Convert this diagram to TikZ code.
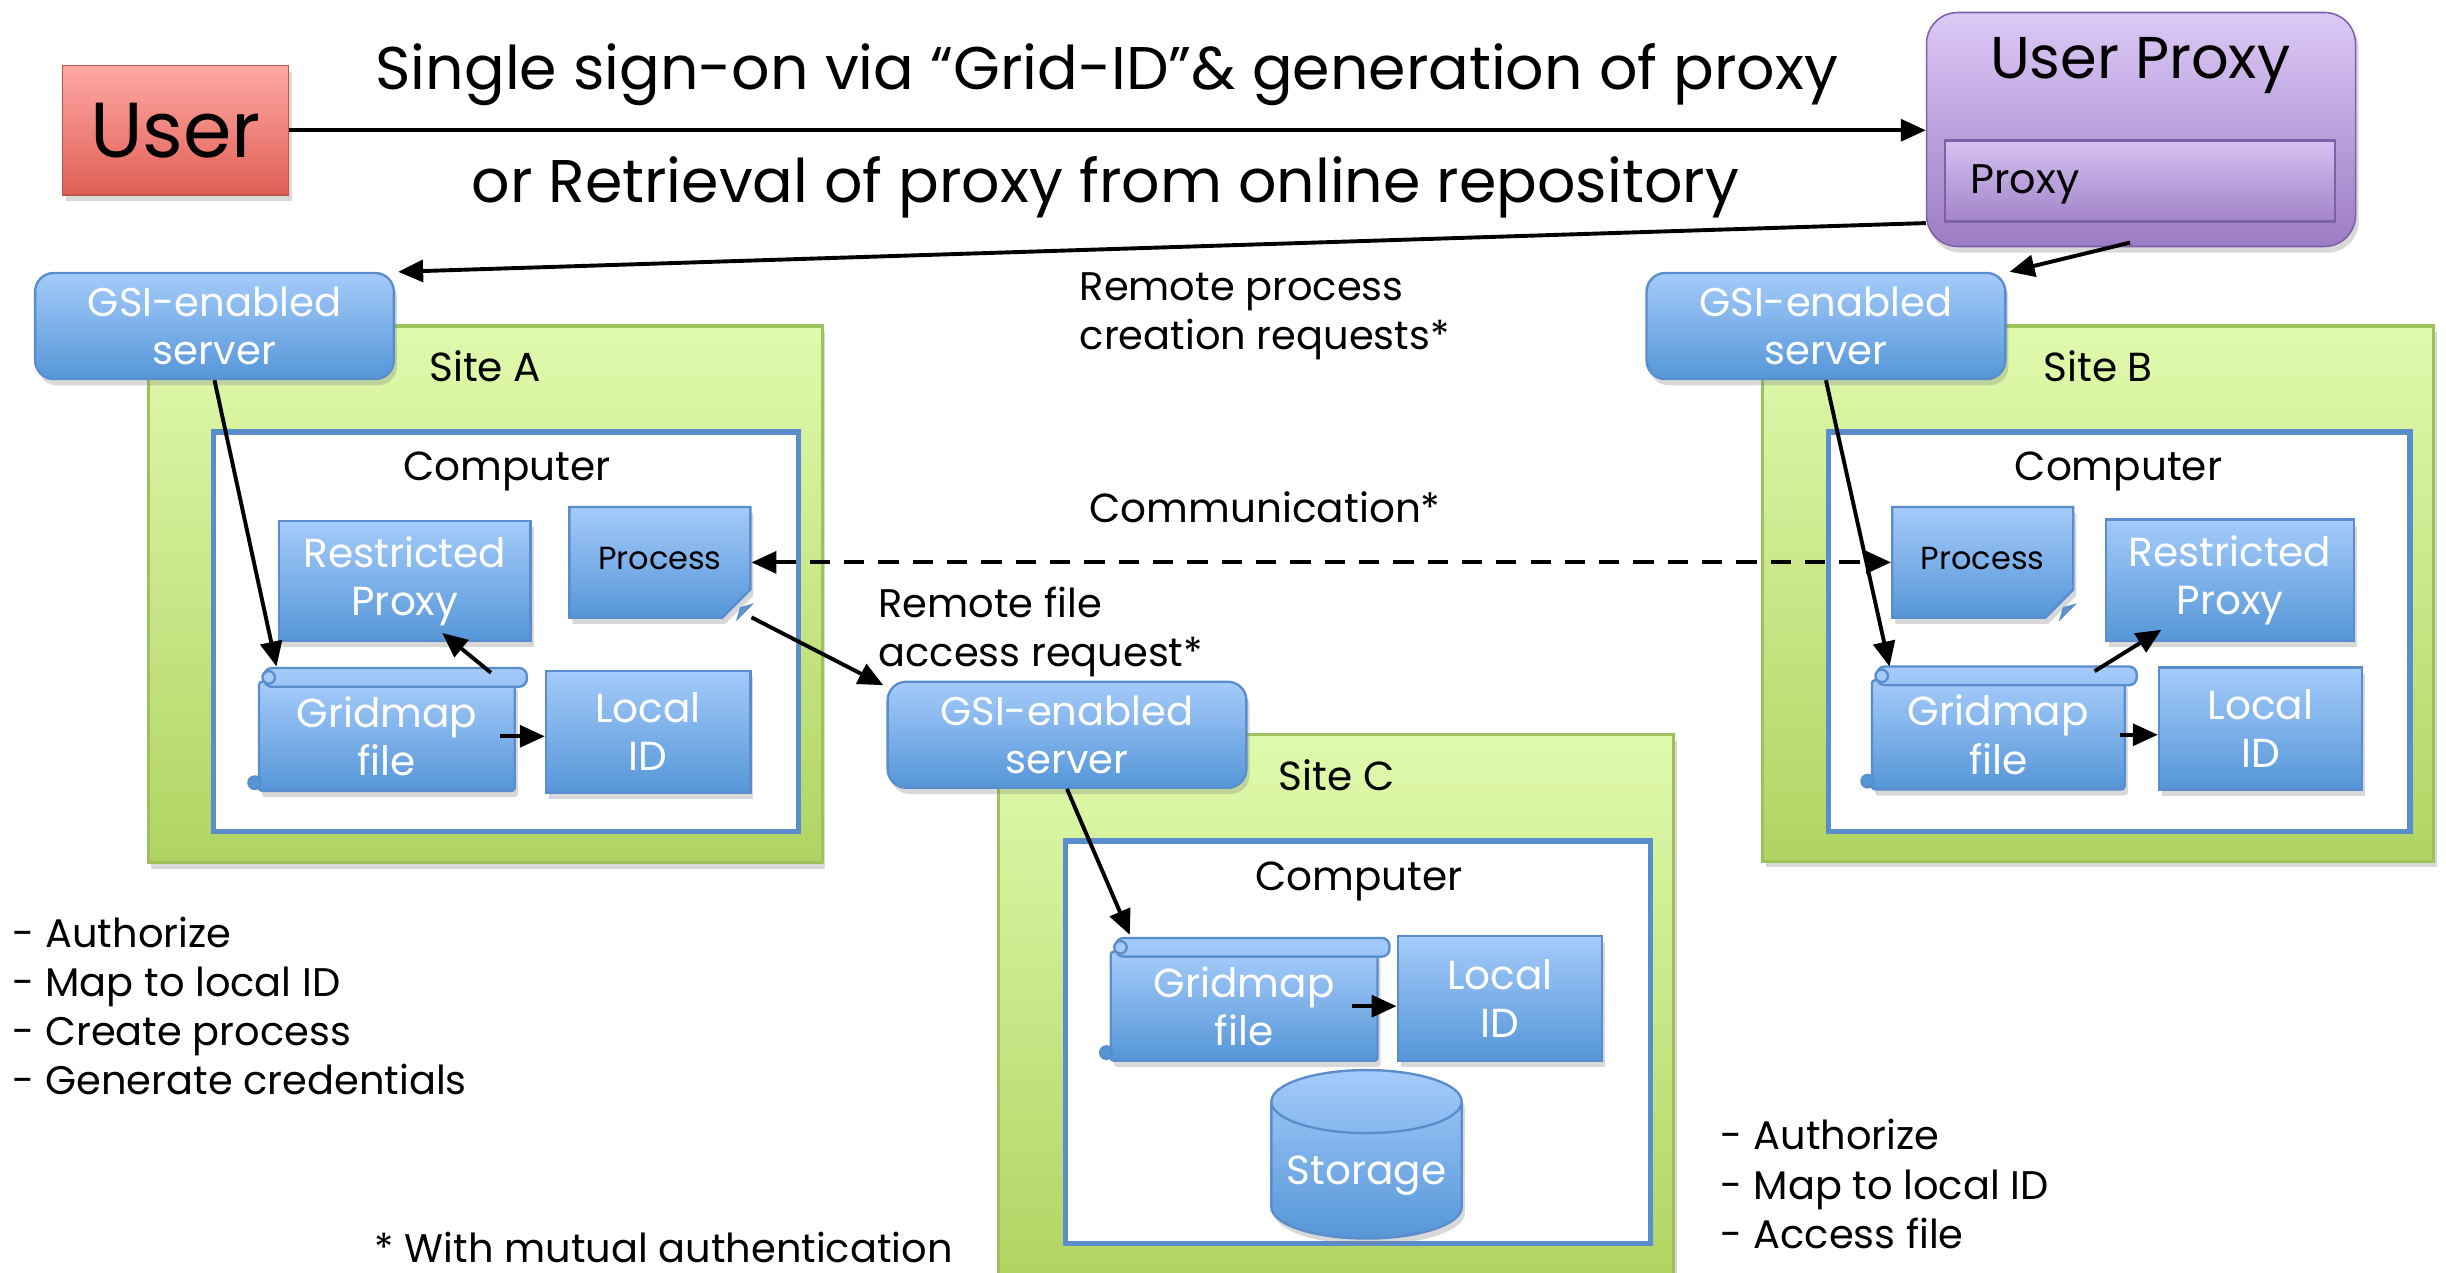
\documentclass[tikz,border=0pt]{standalone}
\usepackage{fontspec}
\setmainfont{Poppins}
\usetikzlibrary{arrows.meta,shadows,shapes.geometric,shapes.misc}

\definecolor{bluetop}{HTML}{A5CBFA}
\definecolor{bluebot}{HTML}{5596D8}
\definecolor{blueline}{HTML}{5A8DCB}
\definecolor{greentop}{HTML}{E0FAAD}
\definecolor{greenbot}{HTML}{B1D362}
\definecolor{greenline}{HTML}{9DC25C}
\definecolor{redtop}{HTML}{FFA8A3}
\definecolor{redbot}{HTML}{E05F56}
\definecolor{purtop}{HTML}{DCC9F6}
\definecolor{purbot}{HTML}{9C7CC4}
\definecolor{purline}{HTML}{7E61A8}

\newcommand\fsz[2]{\fontsize{#1}{#2}\selectfont}

% roll at the top and curl at the bottom of a gridmap file
\newcommand\scrollbar[1]{%
  \draw[blueline, line width=1.5pt, top color=bluetop, bottom color=bluetop!85!bluebot, rounded corners=5pt]
    ([xshift=4pt,yshift=-4pt]#1.north west) rectangle ([xshift=7pt,yshift=8pt]#1.north east);
  \draw[blueline, line width=1.5pt, fill=bluetop] ([xshift=7pt,yshift=2pt]#1.north west) circle (4pt);
  \draw[blueline, line width=1.5pt, fill=bluebot] ([xshift=-2pt,yshift=6pt]#1.south west) circle (4pt);}

% folded corner of a process sheet
\newcommand\foldcorner[1]{%
  \coordinate (#1c) at (#1.south -| #1.east);
  \filldraw[blueline, line width=1pt, fill=bluebot!75!black!60!bluetop]
    ([xshift=-9pt]#1c) -- ([yshift=9pt]#1c) -- ([xshift=-7pt,yshift=7pt]#1c) -- cycle;}

\tikzset{
  shade/.style={drop shadow={opacity=0.3, shadow xshift=2pt, shadow yshift=-4pt}},
  bluebox/.style={shade, draw=blueline, line width=1.5pt, top color=bluetop, bottom color=bluebot,
    text=white, align=center, inner sep=2pt, font=\fsz{26}{31}},
  server/.style={bluebox, rounded corners=12pt, minimum width=230pt, minimum height=68pt, font=\fsz{25.7}{31}},
  infobox/.style={bluebox, minimum width=#1, minimum height=78pt},
  gridbox/.style={bluebox, rounded corners=2pt, minimum width=#1, minimum height=70pt},
  procbox/.style={bluebox, chamfered rectangle, chamfered rectangle corners=south east,
    chamfered rectangle xsep=9pt, chamfered rectangle ysep=9pt,
    minimum width=116pt, minimum height=71pt, text=black, font=\fsz{20.5}{24}},
  site/.style={shade, draw=greenline, line width=2pt, top color=greentop, bottom color=greenbot},
  computer/.style={draw=blueline, line width=3.5pt, fill=white},
  label/.style={text=black, font=\fsz{26}{31}, inner sep=0pt},
  notes/.style={text=black, font=\fsz{25.6}{31.5}, align=left, inner sep=0pt, anchor=west},
  arr/.style={-{Triangle[length=16pt,width=14pt]}, line width=2.5pt},
  darr/.style={{Triangle[length=16pt,width=14pt]}-{Triangle[length=16pt,width=14pt]},
    line width=2.5pt, dash pattern=on 13pt off 9pt}
}

\begin{document}
\begin{tikzpicture}[x=1pt,y=-1pt]
\useasboundingbox (0,0) rectangle (1568,816);

% user and user proxy
\node[shade, draw=redbot!85!black, line width=1pt, top color=redtop, bottom color=redbot,
  minimum width=145pt, minimum height=83pt, font=\fsz{50}{56}] (user) at (112.5,83.5) {User};
\node[shade, draw=purline, line width=1pt, top color=purtop, bottom color=purbot, rounded corners=20pt,
  minimum width=275pt, minimum height=150pt] (uproxy) at (1372.5,83) {};
\node[label, font=\fsz{37.8}{42}] (uptext) at (1372,42) {User Proxy};
\node[draw=purline, line width=1.5pt, top color=purtop!90!purbot, bottom color=purbot!90!purtop,
  minimum width=250pt, minimum height=52pt] (proxybar) at (1372,116) {};
\node[label, font=\fsz{26.5}{30}, anchor=west] (proxytext) at (1263,118) {Proxy};

\node[label, font=\fsz{38.6}{44}] (title1) at (709.5,48) {Single sign-on via “Grid-ID”\& generation of proxy};
\node[label, font=\fsz{38.6}{44}] (title2) at (708.5,120) {or Retrieval of proxy from online repository};

% sites
\node[site, minimum width=432pt, minimum height=344pt] (siteA) at (311,381) {};
\node[site, minimum width=430pt, minimum height=343pt] (siteB) at (1345,380.5) {};
\node[site, minimum width=433pt, minimum height=352pt] (siteC) at (856.5,647) {};
\node[label] (siteAt) at (311,235) {Site A};
\node[label] (siteBt) at (1345,235) {Site B};
\node[label] (siteCt) at (857,497) {Site C};

\node[server] (serverA) at (137.5,209) {GSI-enabled\\server};
\node[server] (serverB) at (1170.5,209) {GSI-enabled\\server};
\node[server] (serverC) at (684,471) {GSI-enabled\\server};

% computers
\node[computer, minimum width=375pt, minimum height=256pt] (compA) at (324.5,405) {};
\node[computer, minimum width=373pt, minimum height=256pt] (compB) at (1358.5,405) {};
\node[computer, minimum width=375pt, minimum height=258pt] (compC) at (870.5,668) {};
\node[label] (compAt) at (325,302) {Computer};
\node[label] (compBt) at (1358,302) {Computer};
\node[label] (compCt) at (871,565) {Computer};

% site A
\node[infobox=161pt, minimum height=77pt] (rA) at (259.5,372.5) {Restricted\\Proxy};
\node[procbox] (pA) at (423,360.5) {\raisebox{5pt}{Process}};
\foldcorner{pA}
\node[gridbox=164pt] (gA) at (248,472) {Gridmap\\file};
\scrollbar{gA}
\node[infobox=131pt] (lA) at (415.5,469) {Local\\ID};

% site B
\node[procbox] (pB) at (1271,360.5) {\raisebox{5pt}{Process}};
\foldcorner{pB}
\node[infobox=159pt] (rB) at (1429.5,372) {Restricted\\Proxy};
\node[gridbox=162pt] (gB) at (1281,471) {Gridmap\\file};
\scrollbar{gB}
\node[infobox=130pt] (lB) at (1449,467) {Local\\ID};

% site C
\node[gridbox=171pt] (gC) at (797.5,645) {Gridmap\\file};
\scrollbar{gC}
\node[infobox=131pt, minimum height=80pt] (lC) at (961.5,640) {Local\\ID};
\node[bluebox, cylinder, shape border rotate=90, aspect=0.38, minimum width=122pt, minimum height=108pt] (stor) at (876,753) {\raisebox{-20pt}{Storage}};

% connectors
\draw[arr] (user.east) -- (user.east -| uproxy.west);
\draw[arr] ([yshift=-60pt]uproxy.west) -- ([xshift=2pt]serverA.north east);
\draw[arr] ([xshift=-7pt,yshift=3pt]uproxy.south) -- ([xshift=2pt]serverB.north east);
\draw[arr] (serverA.south) -- ([xshift=12pt,yshift=9pt]gA.north west);
\draw[arr] (serverB.south) -- ([xshift=12pt,yshift=8pt]gB.north west);
\draw[arr] (serverC.south) -- ([xshift=13pt,yshift=10pt]gC.north west);
\draw[arr] ([xshift=-10pt]gA.east) -- (gA.east -| lA.west);
\draw[arr] ([xshift=-4pt]gB.east) -- (gB.east -| lB.west);
\draw[arr] ([xshift=-17pt]gC.east) -- (gC.east -| lC.west);
\draw[arr] ([xshift=-16pt,yshift=5pt]gA.north east) -- ([xshift=24pt,yshift=6pt]rA.south);
\draw[arr] ([xshift=-20pt,yshift=5pt]gB.north east) -- ([xshift=-44pt,yshift=8pt]rB.south);
\draw[arr] ([yshift=1pt]pAc) -- ([xshift=-2pt,yshift=-3pt]serverC.north west);
\draw[darr] (pA.east) -- (pB.west);

% labels of the connectors
\node[notes] (creq) at (692,203) {Remote process\\creation requests*};
\node[label] (comm) at (811,325) {Communication*};
\node[notes] (freq) at (563,405) {Remote file\\access request*};

% notes
\node[notes] (notesA) at (8,645) {- Authorize\\- Map to local ID\\- Create process\\- Generate credentials};
\node[notes] (notesC) at (1103,759) {- Authorize\\- Map to local ID\\- Access file};
\node[notes] (mutual) at (240,800) {* With mutual authentication};
\end{tikzpicture}
\end{document}
